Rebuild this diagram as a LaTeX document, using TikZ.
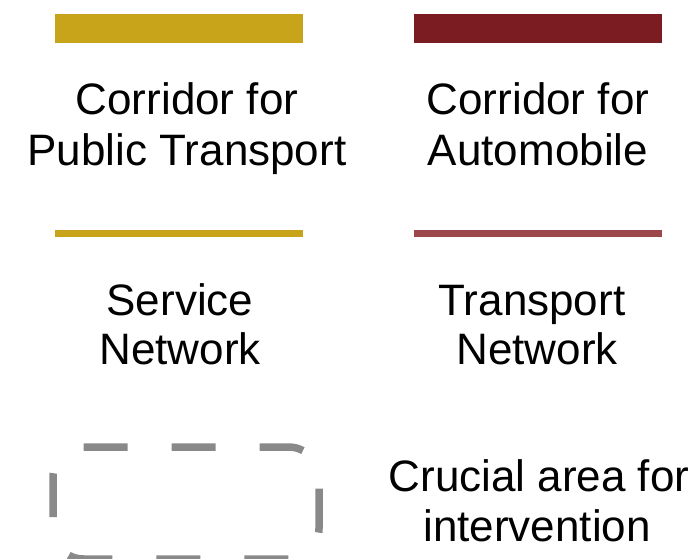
\documentclass[tikz,border=0pt]{standalone}
\usepackage{fontspec}
\setmainfont{Liberation Sans}
\definecolor{ptyellow}{HTML}{C8A41A}
\definecolor{autored}{HTML}{7B1C23}
\definecolor{netred}{HTML}{9B474C}
\definecolor{areagray}{HTML}{898989}
\tikzset{
  lbl/.style={anchor=base, inner sep=0pt, font=\fontsize{44}{50}\selectfont, text=black},
  thickbar/.style={line width=29pt},
  thinbar/.style={line width=7pt},
  areabox/.style={draw=areagray, line width=7.5pt, dash pattern=on 44pt off 44pt, dash phase=0pt, rounded corners=30.5pt}
}
\begin{document}
\begin{tikzpicture}[x=1pt,y=-1pt]
\useasboundingbox (0,0) rectangle (694,559);
% legend lines
\coordinate (y1a) at (55,28.5);  \coordinate (y1b) at (303,28.5);
\coordinate (r1a) at (414,28.5); \coordinate (r1b) at (662,28.5);
\coordinate (y2a) at (55,233.5); \coordinate (y2b) at (303,233.5);
\coordinate (r2a) at (414,233.5);\coordinate (r2b) at (662,233.5);
\draw[thickbar, ptyellow] (y1a) -- (y1b);
\draw[thickbar, autored] (r1a) -- (r1b);
\draw[thinbar, ptyellow] (y2a) -- (y2b);
\draw[thinbar, netred] (r2a) -- (r2b);
% labels
\node[lbl] (cpt1) at (187,115) {Corridor for};
\node[lbl] (cpt2) at (187,166) {Public Transport};
\node[lbl] (ca1) at (538,115) {Corridor for};
\node[lbl] (ca2) at (538,166) {Automobile};
\node[lbl] (sn1) at (180,315) {Service};
\node[lbl] (sn2) at (180,364) {Network};
\node[lbl] (tn1) at (532,315) {Transport};
\node[lbl] (tn2) at (537,364) {Network};
\node[lbl] (ci1) at (539,491) {Crucial area for};
\node[lbl] (ci2) at (537,541) {intervention};
% dashed area
\draw[areabox] (83.5,447) -- (319,447) -- (319,559) -- (53,559) -- (53,447) -- (83.5,447);
\end{tikzpicture}
\end{document}
